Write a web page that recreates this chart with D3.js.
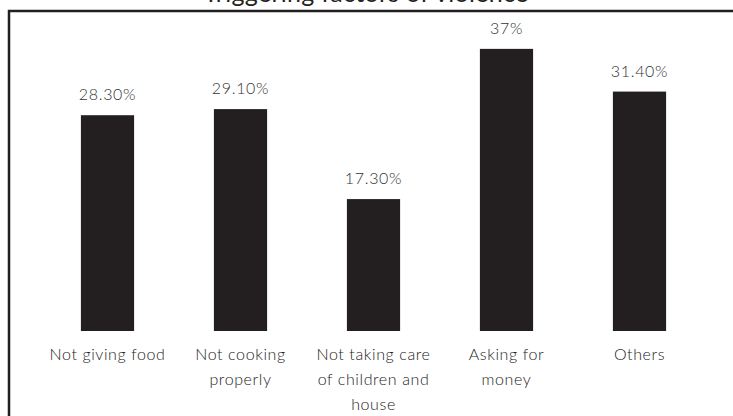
<!doctype html>
<html lang="en">
  <head>
    <meta charset="utf-8">
    <script src="https://d3js.org/d3.v7.min.js"></script>
    <title>Triggering factors of violence</title>
    <style>
      body { margin: 0; background: #fff; }
      svg { display: block; }
      .value { font: 300 16px Lato, sans-serif; fill: #333; letter-spacing: 0.7px; }
      .cat { font: 300 16px Lato, sans-serif; fill: #222; letter-spacing: 0.6px; }
      .title { font: 25px Lato, sans-serif; fill: #231f20; letter-spacing: 0.3px; }
    </style>
  </head>
  <body>
    <svg width="733" height="416"></svg>

    <script>
      // data
      const categories = ["Not giving food", "Not cooking properly", "Not taking care of children and house", "Asking for money", "Others"];
      const categoryLines = [
        ["Not giving food"],
        ["Not cooking", "properly"],
        ["Not taking care", "of children and", "house"],
        ["Asking for", "money"],
        ["Others"]
      ];
      const values = [28.3, 29.1, 17.3, 37, 31.4];
      const valueLabels = ["28.30%", "29.10%", "17.30%", "37%", "31.40%"];

      const svg = d3.select("svg");

      // frame (cut off on the right and bottom like the original)
      svg.append("rect")
        .attr("x", 9)
        .attr("y", 11)
        .attr("width", 740)
        .attr("height", 430)
        .attr("fill", "none")
        .attr("stroke", "#231f20")
        .attr("stroke-width", 2.5);

      // title, mostly above the visible area
      svg.append("text")
        .attr("class", "title")
        .attr("x", 366)
        .attr("y", 1.5)
        .attr("text-anchor", "middle")
        .text("Triggering factors of violence");

      const x = d3.scaleBand()
        .domain(categories)
        .range([41, 706])
        .paddingInner(0.6)
        .paddingOuter(0.3);

      const y = d3.scaleLinear()
        .domain([0, 40])
        .range([331, 26]);

      svg.append("g")
        .selectAll("rect")
        .data(values)
        .enter().append("rect")
        .attr("x", (d, i) => x(categories[i]))
        .attr("y", d => y(d))
        .attr("width", x.bandwidth())
        .attr("height", d => y(0) - y(d))
        .attr("fill", "#231f20");

      svg.append("g")
        .selectAll("text")
        .data(values)
        .enter().append("text")
        .attr("class", "value")
        .attr("x", (d, i) => x(categories[i]) + x.bandwidth() / 2)
        .attr("y", d => y(d) - 15)
        .attr("text-anchor", "middle")
        .text((d, i) => valueLabels[i]);

      // category labels, wrapped the same way as the original
      const cat = svg.append("g")
        .selectAll("text")
        .data(categoryLines)
        .enter().append("text")
        .attr("class", "cat")
        .attr("text-anchor", "middle")
        .attr("x", (d, i) => x(categories[i]) + x.bandwidth() / 2)
        .attr("y", 360);

      cat.selectAll("tspan")
        .data(d => d)
        .enter().append("tspan")
        .attr("x", function() { return this.parentNode.getAttribute("x"); })
        .attr("dy", (d, i) => i === 0 ? 0 : 25)
        .text(d => d);
    </script>
  </body>
</html>
